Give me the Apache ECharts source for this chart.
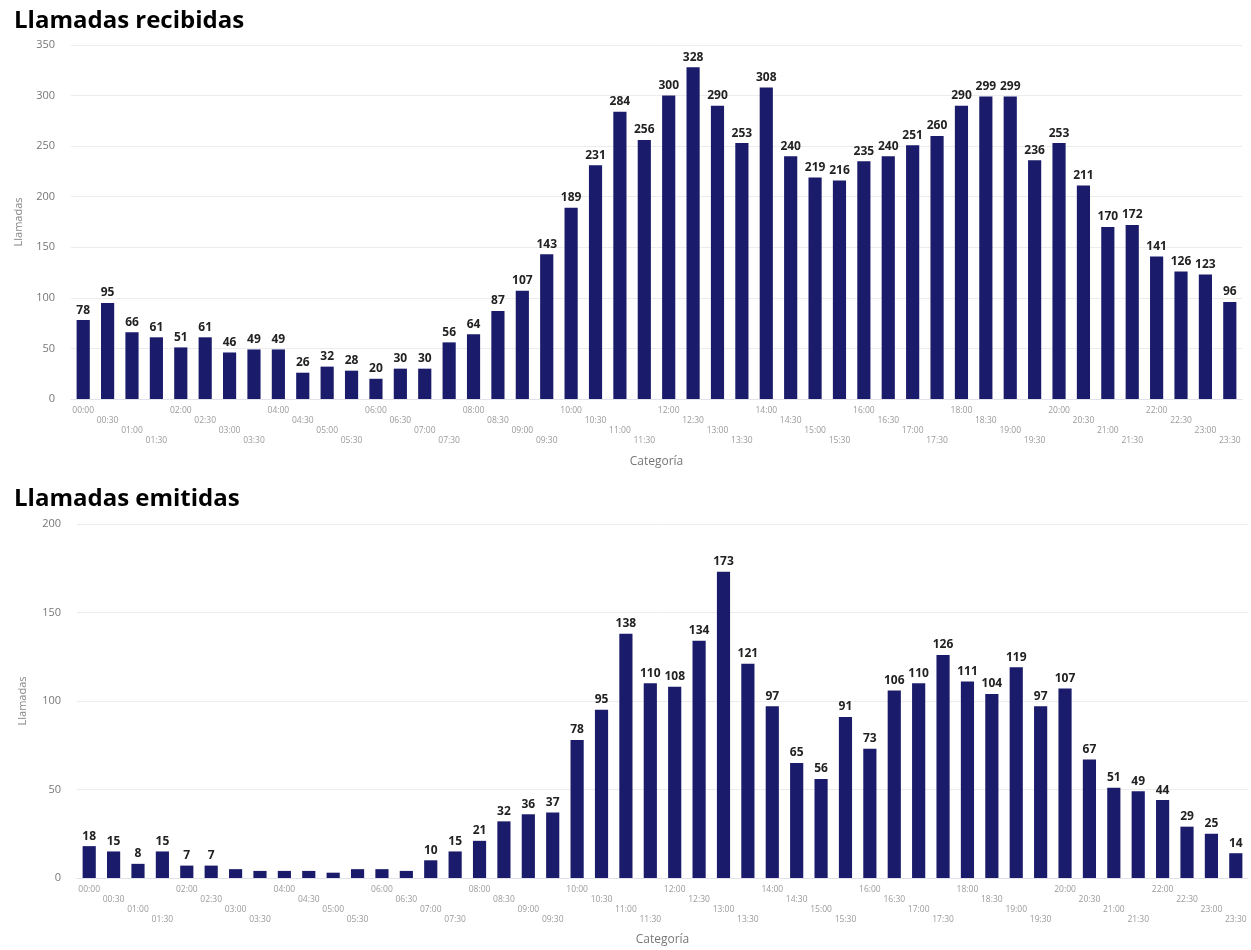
<!DOCTYPE html>
<html><head><meta charset="utf-8">
<script src="https://cdn.jsdelivr.net/npm/echarts@6/dist/echarts.min.js"></script>
<style>html,body{margin:0;padding:0;background:#fff}#c{width:1251px;height:950px}</style>
</head><body><div id="c"></div>
<script>
const categories = ['00:00','00:30','01:00','01:30','02:00','02:30','03:00','03:30','04:00','04:30','05:00','05:30','06:00','06:30','07:00','07:30','08:00','08:30','09:00','09:30','10:00','10:30','11:00','11:30','12:00','12:30','13:00','13:30','14:00','14:30','15:00','15:30','16:00','16:30','17:00','17:30','18:00','18:30','19:00','19:30','20:00','20:30','21:00','21:30','22:00','22:30','23:00','23:30'];
const recibidas = [78,95,66,61,51,61,46,49,49,26,32,28,20,30,30,56,64,87,107,143,189,231,284,256,300,328,290,253,308,240,219,216,235,240,251,260,290,299,299,236,253,211,170,172,141,126,123,96];
const emitidas = [18,15,8,15,7,7,5,4,4,4,3,5,5,4,10,15,21,32,36,37,78,95,138,110,108,134,173,121,97,65,56,91,73,106,110,126,111,104,119,97,107,67,51,49,44,29,25,14];
const titles = ['Llamadas recibidas','Llamadas emitidas'];
const yTicks = {top:{max:350, interval:50}, bottom:{max:200, interval:50}};

const FONT = '"Open Sans", "Noto Sans", sans-serif';
const BAR = '#1b1b6b';

function xAxis(gi, gap){
  return {
    type:'category', gridIndex:gi, data:categories,
    axisTick:{show:false},
    axisLine:{lineStyle:{color:'#e2e2ea', width:1}},
    axisLabel:{interval:0, fontSize:8.5, color:'#9a9a9a', fontFamily:FONT, lineHeight:10, margin:7,
      formatter:(v, i) => '\n'.repeat(i % 4) + v},
    name:'Categoría', nameLocation:'middle', nameGap:gap,
    nameTextStyle:{fontSize:12, color:'#777', fontFamily:FONT}
  };
}
function yAxis(gi, cfg, gap){
  return {
    type:'value', gridIndex:gi, min:0, max:cfg.max, interval:cfg.interval,
    axisLine:{show:false}, axisTick:{show:false},
    splitLine:{lineStyle:{color:'#ececec', width:1}},
    axisLabel:{fontSize:11, color:'#777', fontFamily:FONT, margin:16},
    name:'Llamadas', nameLocation:'middle', nameGap:gap, nameRotate:90,
    nameTextStyle:{fontSize:11, color:'#888', fontFamily:FONT}
  };
}
function series(gi, data){
  return {
    type:'bar', xAxisIndex:gi, yAxisIndex:gi, data:data,
    barCategoryGap:'46%',
    itemStyle:{color:BAR},
    label:{show:true, position:'top', distance:4, fontSize:12, fontWeight:'bold', color:'#222', fontFamily:FONT,
      formatter:p => p.value < 7 ? '' : String(p.value)}
  };
}

const chart = echarts.init(document.getElementById('c'), null, {renderer:'canvas'});
chart.setOption({
  animation:false,
  backgroundColor:'#fff',
  title:[
    {text:titles[0], left:9, top:4, textStyle:{fontSize:24, fontWeight:'bold', color:'#000', fontFamily:FONT}},
    {text:titles[1], left:9, top:482, textStyle:{fontSize:24, fontWeight:'bold', color:'#000', fontFamily:FONT}}
  ],
  grid:[
    {left:71, right:9, top:45, height:354, containLabel:false},
    {left:77, right:3, top:524, height:354, containLabel:false}
  ],
  xAxis:[xAxis(0, 57), xAxis(1, 56)],
  yAxis:[yAxis(0, yTicks.top, 47), yAxis(1, yTicks.bottom, 49)],
  series:[series(0, recibidas), series(1, emitidas)]
});
</script></body></html>
